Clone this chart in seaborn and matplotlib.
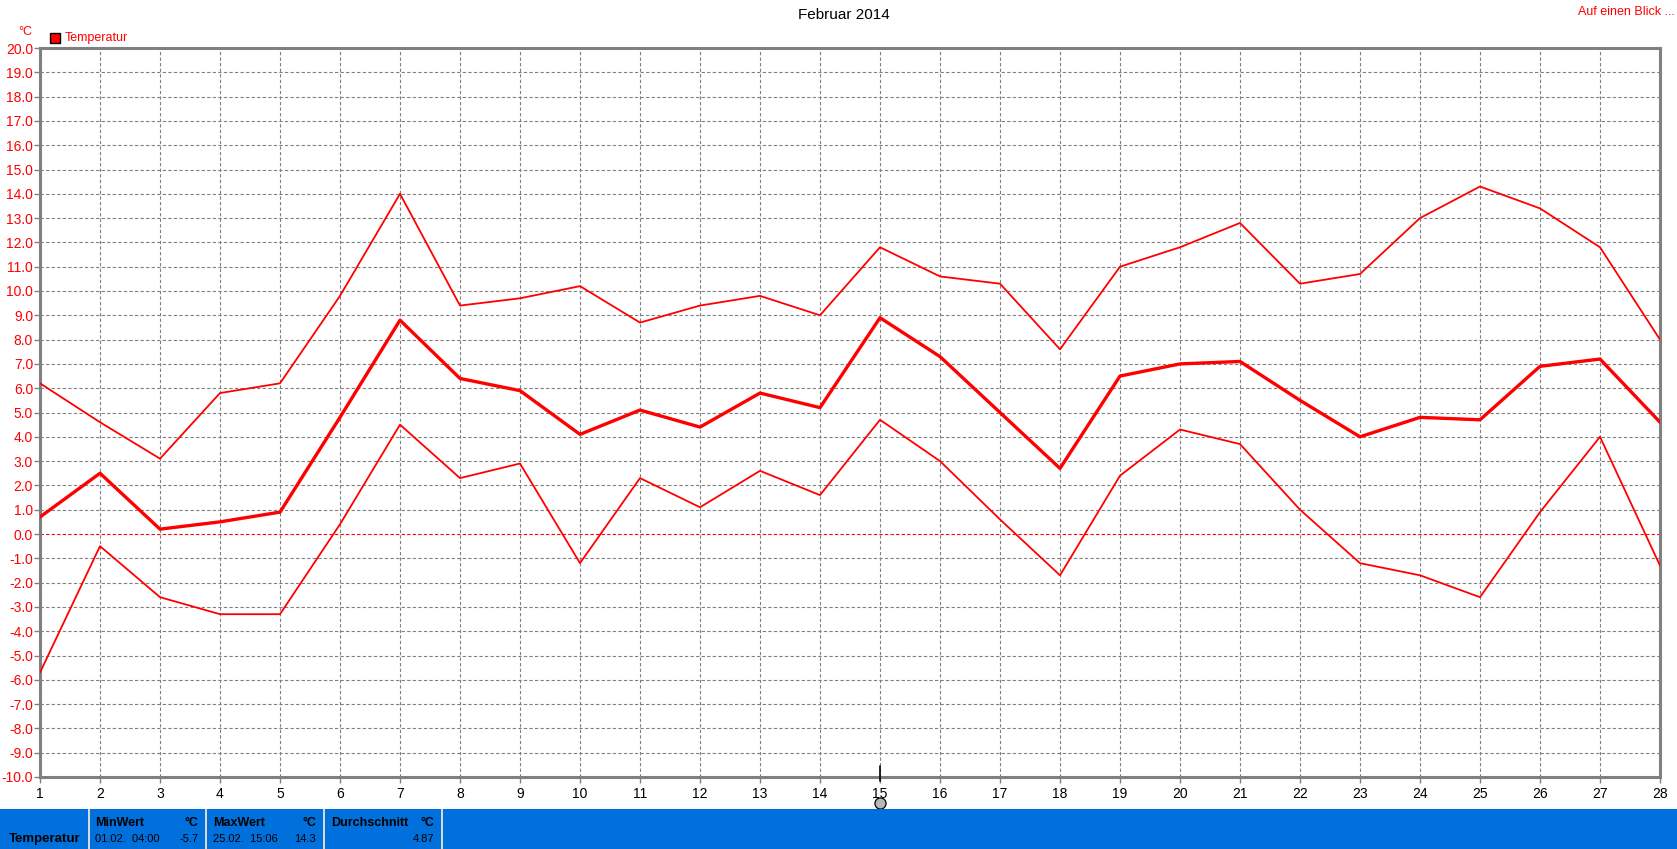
import matplotlib
matplotlib.use("Agg")
import matplotlib.pyplot as plt
import seaborn as sns
import pandas as pd
from matplotlib.patches import Rectangle

# ---- data ----
days = list(range(1, 29))
t_max = [6.2, 4.6, 3.1, 5.8, 6.2, 9.8, 14.0, 9.4, 9.7, 10.2, 8.7, 9.4, 9.8, 9.0,
         11.8, 10.6, 10.3, 7.6, 11.0, 11.8, 12.8, 10.3, 10.7, 13.0, 14.3, 13.4, 11.8, 8.0]
t_mean = [0.7, 2.5, 0.2, 0.5, 0.9, 4.8, 8.8, 6.4, 5.9, 4.1, 5.1, 4.4, 5.8, 5.2,
          8.9, 7.3, 5.0, 2.7, 6.5, 7.0, 7.1, 5.5, 4.0, 4.8, 4.7, 6.9, 7.2, 4.6]
t_min = [-5.7, -0.5, -2.6, -3.3, -3.3, 0.4, 4.5, 2.3, 2.9, -1.2, 2.3, 1.1, 2.6, 1.6,
         4.7, 3.0, 0.6, -1.7, 2.4, 4.3, 3.7, 1.0, -1.2, -1.7, -2.6, 0.9, 4.0, -1.3]
y_ticks = [v for v in range(-10, 21)]
title = "Februar 2014"
panel_heads = ["MinWert", "MaxWert", "Durchschnitt"]
panel_vals = ["01.02.  04:00", "25.02.  15:06", ""]
panel_nums = ["-5.7", "14.3", "4.87"]

sns.set_style("white")
plt.rcParams['font.family'] = ['Liberation Sans', 'DejaVu Sans']

W, H = 1677, 849
fig = plt.figure(figsize=(W / 100, H / 100), dpi=100)
L, R, T, B = 40, 1660, 48, 777
ax = fig.add_axes([L / W, 1 - B / H, (R - L) / W, (B - T) / H])

df = pd.DataFrame({"day": days, "max": t_max, "mean": t_mean, "min": t_min})
red = "#ff0000"
sns.lineplot(data=df, x="day", y="max", ax=ax, color=red, linewidth=1.3, zorder=4)
sns.lineplot(data=df, x="day", y="min", ax=ax, color=red, linewidth=1.3, zorder=4)
sns.lineplot(data=df, x="day", y="mean", ax=ax, color=red, linewidth=2.4, zorder=5)

ax.set_xlim(1, 28)
ax.set_ylim(-10, 20)
ax.set_xticks(days)
ax.set_xticklabels([str(d) for d in days])
ax.set_yticks(y_ticks)
ax.set_yticklabels([f"{v:.1f}" for v in y_ticks])
ax.set_xlabel("")
ax.set_ylabel("")

dash = (0, (3, 2))
for v in y_ticks[1:-1]:
    if v == 0:
        ax.axhline(v, color=red, linewidth=0.8, linestyle=dash, zorder=2)
    else:
        ax.axhline(v, color="#808080", linewidth=0.8, linestyle=dash, zorder=1)
for d in days[1:-1]:
    ax.axvline(d, color="#808080", linewidth=0.8, linestyle=dash, zorder=1)

for s in ax.spines.values():
    s.set_color("#808080")
    s.set_linewidth(2.2)
    s.set_visible(True)

ax.tick_params(axis="y", colors="#808080", labelcolor=red, labelsize=10,
               length=4, width=1, pad=1, left=True)
ax.tick_params(axis="x", colors="#808080", labelcolor="black", labelsize=10,
               length=4, width=1, pad=3, bottom=True)

# marker at day 15
ax.plot([15, 15], [-10.15, -9.55], color="black", linewidth=1.2, clip_on=False, zorder=6)
ax.plot([15], [-11.08], marker="o", markersize=8, markerfacecolor="#b8b8b8",
        markeredgecolor="black", markeredgewidth=0.9, clip_on=False, zorder=6)

# header texts
fig.text(844 / W, 1 - 15 / H, title, ha="center", va="center", fontsize=11, color="black")
fig.text(1675 / W, 1 - 12 / H, "Auf einen Blick ...", ha="right", va="center",
         fontsize=9, color=red)
fig.text(25 / W, 1 - 32 / H, "°C", ha="center", va="center", fontsize=9, color=red)
fig.patches.append(Rectangle((50 / W, 1 - 43 / H), 10 / W, 10 / H, transform=fig.transFigure,
                             facecolor=red, edgecolor="black", linewidth=1))
fig.text(65 / W, 1 - 38 / H, "Temperatur", ha="left", va="center", fontsize=9, color=red)

# bottom info bar
blue = "#0070dd"
fig.patches.append(Rectangle((0, 0), 1, (H - 809) / H, transform=fig.transFigure,
                             facecolor=blue, edgecolor="none"))
for sx in [88, 205, 323, 441]:
    fig.patches.append(Rectangle((sx / W, 0), 2 / W, (H - 809) / H, transform=fig.transFigure,
                                 facecolor="#d8d8d8", edgecolor="none"))
fig.text(9 / W, 1 - 839 / H, "Temperatur", ha="left", va="center", fontsize=9.5,
         fontweight="bold", color="black")
lefts = [95, 213, 331]
rights = [198, 316, 434]
for lx, rx, hd, vl, nm in zip(lefts, rights, panel_heads, panel_vals, panel_nums):
    fig.text(lx / W, 1 - 823 / H, hd, ha="left", va="center", fontsize=9,
             fontweight="bold", color="black")
    fig.text(rx / W, 1 - 823 / H, "°C", ha="right", va="center", fontsize=9,
             fontweight="bold", color="black")
    fig.text(lx / W, 1 - 839 / H, vl, ha="left", va="center", fontsize=8, color="black")
    fig.text(rx / W, 1 - 839 / H, nm, ha="right", va="center", fontsize=8, color="black")

fig.savefig("out.png", dpi=100, facecolor="white")
